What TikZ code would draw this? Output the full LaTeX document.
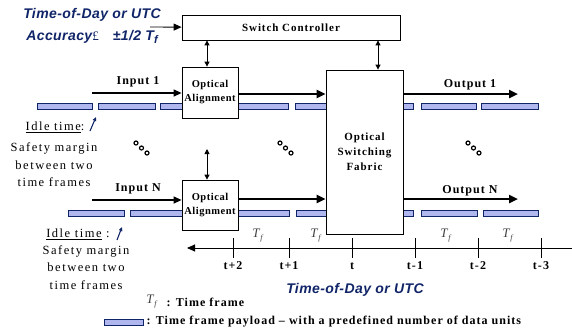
\documentclass[tikz,border=0pt]{standalone}
\usepackage{fontspec}
\setmainfont{Liberation Serif}
\setsansfont{Liberation Sans}
\newfontfamily\lblfont[LetterSpace=8.5]{Liberation Serif}
\newfontfamily\oafont[LetterSpace=5]{Liberation Serif}
\newfontfamily\txtfont[LetterSpace=12]{Liberation Serif}
\newfontfamily\utcfont[LetterSpace=3]{Liberation Sans}
\usetikzlibrary{positioning,arrows.meta}
\definecolor{navy}{RGB}{16,36,104}
\definecolor{payload}{RGB}{176,182,238}

\begin{document}
\begin{tikzpicture}[x=1pt, y=-1pt,
  blk/.style={draw, fill=white, line width=0.8pt, align=center, inner sep=0pt, font=\lblfont\bfseries\fontsize{11}{15}\selectfont},
  oa/.style={blk, minimum width=56pt, font=\oafont\bfseries\fontsize{10.5}{14}\selectfont},
  frm/.style={draw=navy, fill=payload, line width=0.8pt},
  lbl/.style={font=\lblfont\bfseries\fontsize{12}{14}\selectfont},
  txt/.style={font=\txtfont\fontsize{12.5}{17.5}\selectfont, align=center},
  utc/.style={text=navy, font=\utcfont\bfseries\itshape\fontsize{14}{22}\selectfont},
  tf/.style={text=black!75, font=\fontsize{13}{14}\selectfont},
  arr/.style={-{Triangle[length=8pt,width=7pt]}, line width=1.3pt},
  fat/.style={-{Triangle[length=9pt,width=8pt]}, line width=2.4pt},
  dbl/.style={{Triangle[length=5pt,width=5pt]}-{Triangle[length=5pt,width=5pt]}, line width=0.9pt},
  idle/.style={-{Triangle[length=4pt,width=3.5pt]}, draw=navy, line width=1.1pt}]
\useasboundingbox (0,0) rectangle (572,330);

\foreach \a/\b in {37/92, 98/155, 160/216, 238/288, 295/351, 403/413, 421/476, 481/538}
  \draw[frm] (\a,103) rectangle (\b,109);
\foreach \a/\b in {68/124, 130/186, 238/289, 296/352, 403/413, 421/477, 483/538}
  \draw[frm] (\a,210) rectangle (\b,216);

\node[blk, minimum width=218pt, minimum height=25pt] (ctrl) at (291,27.5) {Switch Controller};
\node[oa, minimum height=51pt] (align1) at (210,92.5) {Optical\\Alignment};
\node[oa, minimum height=50pt] (alignN) at (210,205) {Optical\\Alignment};
\node[blk, minimum width=77pt, minimum height=164pt] (fabric) at (364.5,152) {Optical\\Switching\\Fabric};

\node[utc, align=center] (tod) at (92,26) {Time-of-Day or UTC\\Accuracy{\rmfamily\mdseries\upshape\fontsize{13}{13}\selectfont £}\quad ±1/2 T\raisebox{-0.5ex}{\fontsize{11}{11}\selectfont f}};
\coordinate (todin) at (150,27);
\draw[arr, line width=0.9pt] (todin) -- (ctrl);

\draw[dbl] ([xshift=-3pt]align1.north) -- ([xshift=-3pt]align1.north |- ctrl.south);
\draw[dbl] ([xshift=13.5pt]fabric.north) -- ([xshift=13.5pt]fabric.north |- ctrl.south);
\coordinate (mid) at (207,149);
\draw[dbl] (mid) -- ([xshift=-3pt]alignN.north);

\coordinate (in1) at (92,93);
\coordinate (inN) at (92,200);
\coordinate (out1) at (518,94);
\coordinate (outN) at (518,199);
\draw[arr] (in1) -- (align1.west |- in1);
\draw[arr] (inN) -- (alignN.west |- inN);
\draw[fat] (align1.east |- out1) -- (fabric.west |- out1);
\draw[fat] (alignN.east |- outN) -- (fabric.west |- outN);
\draw[fat] (fabric.east |- out1) -- (out1);
\draw[fat] (fabric.east |- outN) -- (outN);
\node[lbl] (lin1) at (138,82) {Input 1};
\node[lbl] (linN) at (138,189) {Input N};
\node[lbl] (lout1) at (470,85) {Output 1};
\node[lbl] (loutN) at (470,191) {Output N};

\foreach \x/\y in {136/143, 280/143, 468/143}
  \foreach \k in {0,1,2}
    \draw[line width=1.2pt] (\x+5.5*\k,\y+5*\k) circle (2pt);

\node[txt] (idle1) at (55,127) {\underline{Idle time}:};
\node[txt] (safe1) at (54,165) {Safety margin\\between two\\time frames};
\coordinate (g1a) at (90,131);
\coordinate (g1b) at (96,117);
\draw[idle] (g1a) -- (g1b);
\node[txt] (idleN) at (78,234) {\underline{Idle time} :};
\node[txt] (safeN) at (86,267.5) {Safety margin\\between two\\time frames};
\coordinate (g2a) at (117,240);
\coordinate (g2b) at (122,227);
\draw[idle] (g2a) -- (g2b);

\coordinate (axr) at (572,248);
\coordinate (axl) at (187,248);
\draw[arr, line width=0.9pt] (axr) -- (axl);
\foreach \x/\t in {233/t+2, 289/t+1, 352/t, 415/t-1, 478/t-2, 541/t-3} {
  \draw[line width=0.9pt] (\x,238) -- (\x,258);
  \node[lbl] at (\x,266) {\t};
}
\foreach \x in {258, 316, 446, 508}
  \node[tf] at (\x,236) {\textit{T}\raisebox{-0.5ex}{\textit{\footnotesize f}}};
\node[utc] (todbot) at (355,290) {Time-of-Day or UTC};

\node[tf] (keytf) at (152,302) {\textit{T}\raisebox{-0.5ex}{\textit{\footnotesize f}}};
\node[lbl, anchor=west] (keytxt) at (163,302) {: Time frame};
\draw[frm] (104,319) rectangle (143,325);
\node[lbl, anchor=west] (keypay) at (143,322) {: Time frame payload – with a predefined number of data units};
\end{tikzpicture}
\end{document}
